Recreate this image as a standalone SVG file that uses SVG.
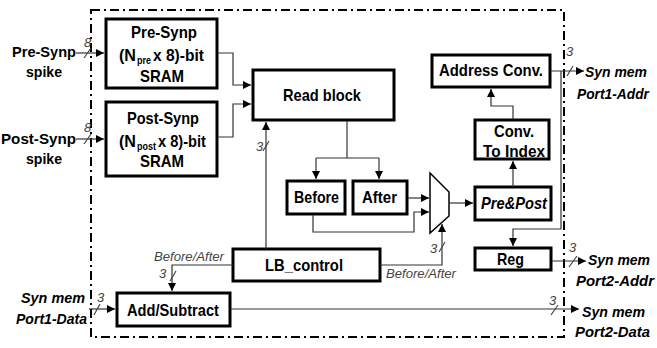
<svg xmlns="http://www.w3.org/2000/svg" width="657" height="348" viewBox="0 0 657 348">
  <style>
    .box { fill: #fff; stroke: #000; stroke-width: 3; }
    .t { font-family: "Liberation Sans", Arial, sans-serif; font-weight: bold; font-size: 17px; fill: #000; }
    .sub { font-family: "Liberation Sans", Arial, sans-serif; font-weight: bold; font-size: 11px; fill: #000; }
    .tin { font-family: "Liberation Sans", Arial, sans-serif; font-weight: bold; font-size: 15px; fill: #000; }
    .ti { font-family: "Liberation Sans", Arial, sans-serif; font-weight: bold; font-style: italic; font-size: 17px; fill: #000; }
    .tio { font-family: "Liberation Sans", Arial, sans-serif; font-weight: bold; font-style: italic; font-size: 15px; fill: #000; }
    .lbl { font-family: "Liberation Sans", Arial, sans-serif; font-style: italic; font-size: 13px; fill: #444; }
    .c { fill: none; stroke: #333; stroke-width: 1.2; }
    .slash { stroke: #444; stroke-width: 1.2; }
    .frame { fill: none; stroke: #000; stroke-width: 2; stroke-dasharray: 9 4 2 4; }
  </style>
  <defs>
    <marker id="arr" markerUnits="userSpaceOnUse" markerWidth="9" markerHeight="8" refX="8" refY="4" orient="auto">
      <path d="M0,0 L8,4 L0,8 z" fill="#000"/>
    </marker>
  </defs>

  <!-- enclosing block boundary -->
  <rect class="frame" x="91" y="10" width="473" height="327"/>

  <!-- external port labels -->
  <g id="ports">
    <text class="tin" x="12" y="57" textLength="64" lengthAdjust="spacingAndGlyphs">Pre-Synp</text>
    <text class="tin" x="26" y="77" textLength="36" lengthAdjust="spacingAndGlyphs">spike</text>
    <text class="tin" x="1" y="144" textLength="75" lengthAdjust="spacingAndGlyphs">Post-Synp</text>
    <text class="tin" x="26" y="164" textLength="36" lengthAdjust="spacingAndGlyphs">spike</text>
    <text class="tio" x="21" y="303" textLength="64" lengthAdjust="spacingAndGlyphs">Syn mem</text>
    <text class="tio" x="16" y="324" textLength="71" lengthAdjust="spacingAndGlyphs">Port1-Data</text>
    <text class="tio" x="585" y="77" textLength="62" lengthAdjust="spacingAndGlyphs">Syn mem</text>
    <text class="tio" x="577" y="99" textLength="72" lengthAdjust="spacingAndGlyphs">Port1-Addr</text>
    <text class="tio" x="588" y="265" textLength="62" lengthAdjust="spacingAndGlyphs">Syn mem</text>
    <text class="tio" x="576" y="286" textLength="78" lengthAdjust="spacingAndGlyphs">Port2-Addr</text>
    <text class="tio" x="582" y="317" textLength="63" lengthAdjust="spacingAndGlyphs">Syn mem</text>
    <text class="tio" x="575" y="337" textLength="75" lengthAdjust="spacingAndGlyphs">Port2-Data</text>
  </g>

  <g id="pre-sram">
    <rect class="box" x="106" y="19" width="111" height="69"/>
    <text class="t" x="131" y="38" textLength="66" lengthAdjust="spacingAndGlyphs">Pre-Synp</text>
    <text class="t" x="119" y="61" textLength="17" lengthAdjust="spacingAndGlyphs">(N</text>
    <text class="sub" x="137" y="64" textLength="14" lengthAdjust="spacingAndGlyphs">pre</text>
    <text class="t" x="153" y="61" textLength="51" lengthAdjust="spacingAndGlyphs">x 8)-bit</text>
    <text class="t" x="140" y="82" textLength="44" lengthAdjust="spacingAndGlyphs">SRAM</text>
  </g>

  <g id="post-sram">
    <rect class="box" x="106" y="102" width="111" height="74"/>
    <text class="t" x="127" y="124" textLength="72" lengthAdjust="spacingAndGlyphs">Post-Synp</text>
    <text class="t" x="119" y="147" textLength="17" lengthAdjust="spacingAndGlyphs">(N</text>
    <text class="sub" x="137" y="150" textLength="19" lengthAdjust="spacingAndGlyphs">post</text>
    <text class="t" x="158" y="147" textLength="48" lengthAdjust="spacingAndGlyphs">x 8)-bit</text>
    <text class="t" x="140" y="167" textLength="44" lengthAdjust="spacingAndGlyphs">SRAM</text>
  </g>

  <g id="read-block">
    <rect class="box" x="253" y="70" width="141" height="50"/>
    <text class="t" x="283" y="101" textLength="78" lengthAdjust="spacingAndGlyphs">Read block</text>
  </g>

  <g id="before">
    <rect class="box" x="287" y="181" width="58" height="33"/>
    <text class="t" x="294" y="203" textLength="45" lengthAdjust="spacingAndGlyphs">Before</text>
  </g>

  <g id="after">
    <rect class="box" x="353" y="181" width="54" height="33"/>
    <text class="t" x="362" y="203" textLength="35" lengthAdjust="spacingAndGlyphs">After</text>
  </g>

  <g id="mux">
    <path d="M430,173 L449,192 L449,216 L430,233 z" fill="#fff" stroke="#000" stroke-width="1.5"/>
  </g>

  <g id="pre-post">
    <rect class="box" x="475" y="187" width="76" height="33"/>
    <text class="ti" x="481" y="209" textLength="66" lengthAdjust="spacingAndGlyphs">Pre&amp;Post</text>
  </g>

  <g id="conv-index">
    <rect class="box" x="475" y="120" width="74" height="39"/>
    <text class="t" x="494" y="137" textLength="40" lengthAdjust="spacingAndGlyphs">Conv.</text>
    <text class="t" x="483" y="157" textLength="62" lengthAdjust="spacingAndGlyphs">To Index</text>
  </g>

  <g id="address-conv">
    <rect class="box" x="432" y="55" width="118" height="32"/>
    <text class="t" x="439" y="76" textLength="104" lengthAdjust="spacingAndGlyphs">Address Conv.</text>
  </g>

  <g id="reg">
    <rect class="box" x="475" y="248" width="76" height="22"/>
    <text class="t" x="497" y="265" textLength="27" lengthAdjust="spacingAndGlyphs">Reg</text>
  </g>

  <g id="lb-control">
    <rect class="box" x="233" y="249" width="147" height="32"/>
    <text class="t" x="265" y="271" textLength="78" lengthAdjust="spacingAndGlyphs">LB_control</text>
  </g>

  <g id="add-subtract">
    <rect class="box" x="117" y="293" width="113" height="33"/>
    <text class="t" x="127" y="316" textLength="92" lengthAdjust="spacingAndGlyphs">Add/Subtract</text>
  </g>

  <g id="connectors">
    <path class="c" d="M76,53 H104" marker-end="url(#arr)"/>
    <path class="c" d="M76,139 H104" marker-end="url(#arr)"/>
    <path class="c" d="M218,53 H233 V85 H251" marker-end="url(#arr)"/>
    <path class="c" d="M218,137 H233 V104 H251" marker-end="url(#arr)"/>
    <path class="c" d="M347,121 V158"/>
    <path class="c" d="M316,158 H379"/>
    <path class="c" d="M316,158 V179" marker-end="url(#arr)"/>
    <path class="c" d="M379,158 V179" marker-end="url(#arr)"/>
    <path class="c" d="M408,198 H429" marker-end="url(#arr)"/>
    <path class="c" d="M313,215 V232 H414 V212 H429" marker-end="url(#arr)"/>
    <path class="c" d="M449,203 H473" marker-end="url(#arr)"/>
    <path class="c" d="M513,187 V161" marker-end="url(#arr)"/>
    <path class="c" d="M513,119 V106 H491 V89" marker-end="url(#arr)"/>
    <path class="c" d="M551,71 H584" marker-end="url(#arr)"/>
    <path class="c" d="M561,71 V229 H513 V246" marker-end="url(#arr)"/>
    <path class="c" d="M552,261 H586" marker-end="url(#arr)"/>
    <path class="c" d="M266,249 V122" marker-end="url(#arr)"/>
    <path class="c" d="M233,265 H172 V291" marker-end="url(#arr)"/>
    <path class="c" d="M380,265 H442 V224" marker-end="url(#arr)"/>
    <path class="c" d="M89,309 H115" marker-end="url(#arr)"/>
    <path class="c" d="M231,309 H579" marker-end="url(#arr)"/>

    <!-- bus-width slashes -->
    <line class="slash" x1="84" y1="58" x2="91" y2="48"/>
    <line class="slash" x1="84" y1="144" x2="91" y2="134"/>
    <line class="slash" x1="263" y1="151" x2="269" y2="141"/>
    <line class="slash" x1="170" y1="281" x2="176" y2="271"/>
    <line class="slash" x1="439" y1="252" x2="445" y2="242"/>
    <line class="slash" x1="94" y1="315" x2="100" y2="304"/>
    <line class="slash" x1="567" y1="76" x2="573" y2="66"/>
    <line class="slash" x1="569" y1="267" x2="577" y2="256"/>
    <line class="slash" x1="551" y1="315" x2="558" y2="305"/>

    <!-- bus widths and signal names -->
    <text class="lbl" x="84" y="47">8</text>
    <text class="lbl" x="84" y="132">8</text>
    <text class="lbl" x="256" y="151">3</text>
    <text class="lbl" x="159" y="278">3</text>
    <text class="lbl" x="430" y="253">3</text>
    <text class="lbl" x="97" y="302">3</text>
    <text class="lbl" x="566" y="56">3</text>
    <text class="lbl" x="569" y="252">3</text>
    <text class="lbl" x="549" y="305">3</text>
    <text class="lbl" x="154" y="261" textLength="70" lengthAdjust="spacingAndGlyphs">Before/After</text>
    <text class="lbl" x="386" y="278" textLength="70" lengthAdjust="spacingAndGlyphs">Before/After</text>
  </g>
</svg>
